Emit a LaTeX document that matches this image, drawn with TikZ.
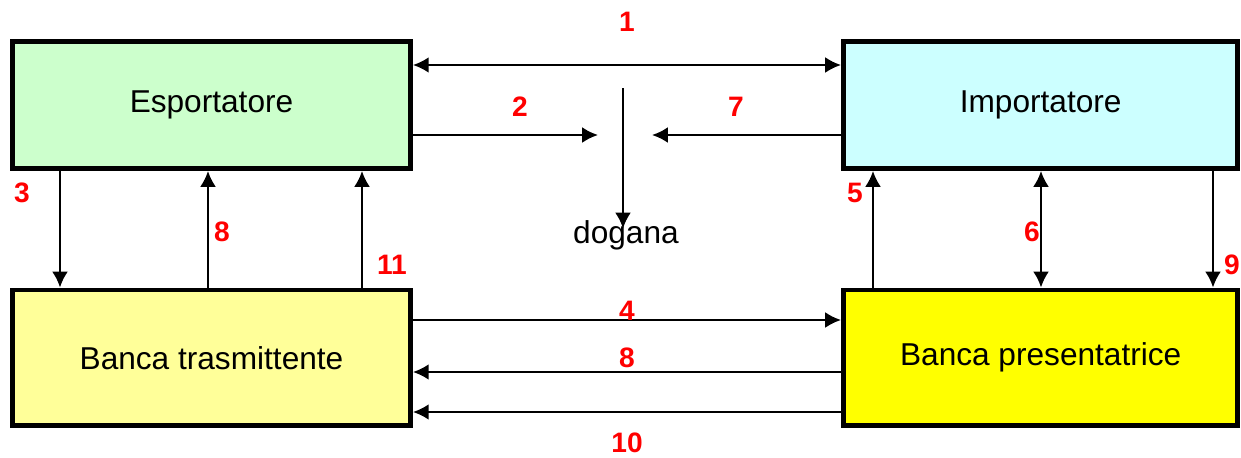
\documentclass[tikz,border=0pt]{standalone}
\usepackage{fontspec}
\setmainfont{Liberation Sans}
\usetikzlibrary{arrows.meta}

\definecolor{verdino}{HTML}{CCFFCC}
\definecolor{azzurrino}{HTML}{CCFFFF}
\definecolor{giallino}{HTML}{FFFF99}
\definecolor{giallo}{HTML}{FFFF00}

\begin{document}
\begin{tikzpicture}[x=0.02cm, y=-0.02cm,
  >={Latex[length=9pt,width=9pt]},
  box/.style={draw, line width=2.8pt, inner sep=0pt,
    font=\fontsize{18}{18}\selectfont},
  num/.style={text=red, inner sep=0pt, font=\fontsize{16}{16}\selectfont\bfseries},
  arr/.style={line width=1.3pt}]
\useasboundingbox (0,0) rectangle (1241,457);

% parties
\node[box, fill=verdino, minimum width=7.96cm, minimum height=2.54cm]
  (esp) at (211.5,105) {Esportatore};
\node[box, fill=azzurrino, minimum width=7.89cm, minimum height=2.54cm]
  (imp) at (1040.7,105) {Importatore};
\node[box, fill=giallino, minimum width=7.96cm, minimum height=2.71cm]
  (btr) at (211.5,357.7) {Banca trasmittente};
\node[box, fill=giallo, minimum width=7.89cm, minimum height=2.71cm]
  (bpr) at (1040.7,357.7) {Banca presentatrice};

% customs
\node[inner sep=0pt, anchor=base, font=\fontsize{18}{18}\selectfont]
  (dogana) at (626,243) {dogana};
\coordinate (dtop) at (623,88);
\coordinate (in2) at (598,135);
\coordinate (in7) at (652,135);

% top row
\draw[arr, <->] (esp.east |- 0,65) -- (imp.west |- 0,65);
\draw[arr, ->] (esp.east |- in2) -- (in2);
\draw[arr, ->] (imp.west |- in7) -- (in7);
\draw[arr, ->] (dtop) -- ([yshift=-5pt]dtop |- dogana.north);

% left side
\draw[arr, ->] (esp.south -| 60,0) -- (btr.north -| 60,0);
\draw[arr, ->] (btr.north -| 208,0) -- (esp.south -| 208,0);
\draw[arr, ->] (btr.north -| 362,0) -- (esp.south -| 362,0);

% right side
\draw[arr, ->] (bpr.north -| 873,0) -- (imp.south -| 873,0);
\draw[arr, <->] (imp.south -| 1041,0) -- (bpr.north -| 1041,0);
\draw[arr, ->] (imp.south -| 1213,0) -- (bpr.north -| 1213,0);

% bottom row
\draw[arr, ->] (btr.east |- 0,320) -- (bpr.west |- 0,320);
\draw[arr, ->] (bpr.west |- 0,372) -- (btr.east |- 0,372);
\draw[arr, ->] (bpr.west |- 0,412) -- (btr.east |- 0,412);

% step numbers
\node[num] (n1) at (627,22) {1};
\node[num] (n2) at (520,107) {2};
\node[num] (n7) at (736,107) {7};
\node[num] (n3) at (22,193) {3};
\node[num] (n8a) at (222,232) {8};
\node[num] (n11) at (392,265) {11};
\node[num] (n5) at (855,193) {5};
\node[num] (n6) at (1032,232) {6};
\node[num] (n9) at (1232,265) {9};
\node[num] (n4) at (627,311) {4};
\node[num] (n8b) at (627,358) {8};
\node[num] (n10) at (627,443) {10};
\end{tikzpicture}
\end{document}
